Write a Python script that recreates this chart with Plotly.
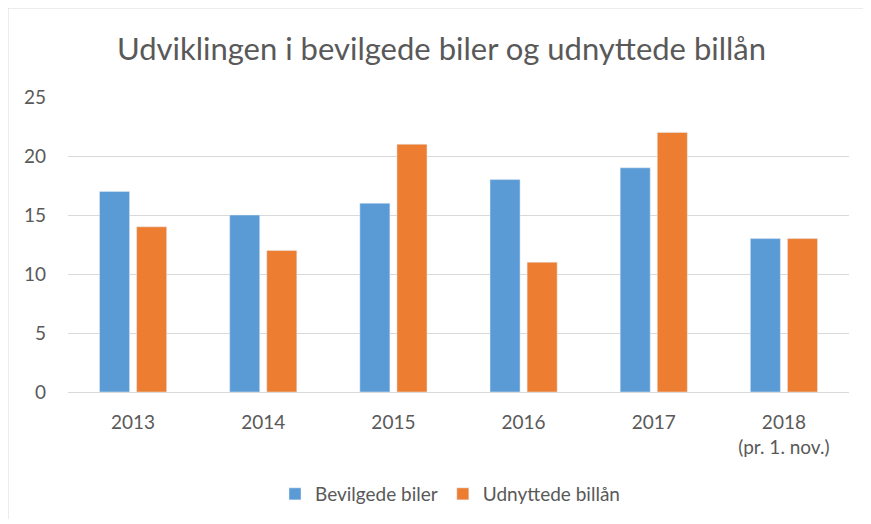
import plotly.graph_objects as go

categories = ["2013", "2014", "2015", "2016", "2017", "2018<br>(pr. 1. nov.)"]
bevilgede = [17, 15, 16, 18, 19, 13]
udnyttede = [14, 12, 21, 11, 22, 13]
y_ticks = [0, 5, 10, 15, 20, 25]

# page offset of the figure inside the browser window
OFF = 8
W, H = 855, 511
# plot area in screen pixels
SX0, SX1, SY0, SY1 = 68, 849, 97, 392
L, R = SX0 - OFF, W - (SX1 - OFF)
T, B = SY0 - OFF, H - (SY1 - OFF)
pw, ph = W - L - R, H - T - B

def px(sx):
    return (sx - SX0) / pw

def py(sy):
    return (SY1 - sy) / ph

FONT = "Lato"
GREY = "#595959"

fig = go.Figure()
fig.add_trace(go.Bar(x=categories, y=bevilgede, name="Bevilgede biler", marker_color="#5b9bd5"))
fig.add_trace(go.Bar(x=categories, y=udnyttede, name="Udnyttede billån", marker_color="#ed7d31"))

fig.update_layout(
    width=W, height=H,
    margin=dict(l=L, r=R, t=T, b=B, autoexpand=False),
    paper_bgcolor="white", plot_bgcolor="white",
    font=dict(family=FONT, color=GREY, size=19),
    title=dict(text="Udviklingen i bevilgede biler og udnyttede billån",
               x=px(441.5), xref="paper", xanchor="center",
               y=1 - (49 - OFF) / H, yanchor="middle",
               font=dict(family=FONT, size=31, color=GREY)),
    barmode="group", bargap=0.43, bargroupgap=0.19,
    showlegend=True,
    legend=dict(orientation="h", x=px(450), xanchor="center", y=py(494), yanchor="middle",
                font=dict(family=FONT, size=19, color=GREY), traceorder="normal",
                itemwidth=30, tracegroupgap=0),
    xaxis=dict(showgrid=False, showline=True, linecolor="#d9d9d9", linewidth=1,
               ticks="", ticklabelstandoff=13,
               tickfont=dict(family=FONT, size=19, color=GREY)),
    yaxis=dict(range=[0, 25], tickvals=y_ticks, showgrid=True, gridcolor="#d9d9d9",
               zeroline=False, showline=False, ticks="", ticklabelstandoff=21,
               tickfont=dict(family=FONT, size=19, color=GREY)),
    shapes=[
        dict(type="line", xref="paper", yref="paper", x0=px(8), x1=px(880), y0=py(8), y1=py(8),
             line=dict(color="#d9d9d9", width=1)),
        dict(type="line", xref="paper", yref="paper", x0=px(8), x1=px(8), y0=py(8), y1=py(530),
             line=dict(color="#d9d9d9", width=1)),
    ],
)

fig.write_html("out.html")
